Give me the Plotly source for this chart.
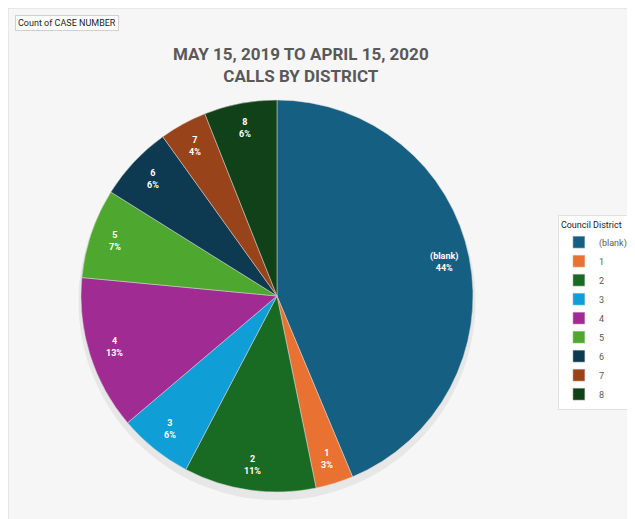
import numpy as np
import plotly.graph_objects as go

districts = ["(blank)", "1", "2", "3", "4", "5", "6", "7", "8"]
case_counts = [437, 31, 109, 61, 127, 74, 62, 39, 60]
slice_colors = ["#156082", "#E97132", "#196B24", "#0F9ED5", "#A02B93",
                "#4EA72E", "#0D3A50", "#99431A", "#114118"]

# page body has an 8px margin, so the figure is a bit smaller than the window
W, H = 627, 511
pie_x = [0.1164, 0.7416]
pie_y = [0.0528, 0.820]

counts = np.array(case_counts, dtype=float)
share = counts / counts.sum()
mid_angle = np.radians((np.cumsum(share) - share / 2) * 360)

# pie geometry in paper units, for placing the data labels near the rim
cx, cy = np.mean(pie_x), np.mean(pie_y)
radius_px = min((pie_x[1] - pie_x[0]) * W, (pie_y[1] - pie_y[0]) * H) / 2
label_r = 0.87 * radius_px

fig = go.Figure()

# soft shadow under the pie
fig.add_trace(go.Pie(
    values=[1],
    marker=dict(colors=["rgba(0,0,0,0.06)"], line=dict(width=0)),
    domain=dict(x=[pie_x[0] - 0.006, pie_x[1] + 0.006], y=[pie_y[0] - 0.016, pie_y[1] - 0.006]),
    textinfo="none", hoverinfo="skip", showlegend=False, sort=False,
))

fig.add_trace(go.Pie(
    labels=districts,
    values=case_counts,
    sort=False,
    direction="clockwise",
    rotation=0,
    marker=dict(colors=slice_colors, line=dict(width=0.5, color="#d9d9d9")),
    textinfo="none",
    domain=dict(x=pie_x, y=pie_y),
    hoverinfo="label+value+percent",
))

annotations = [
    dict(text="Count of CASE NUMBER", xref="paper", yref="paper",
         x=7 / W, y=1 - 7 / H, xanchor="left", yanchor="top", showarrow=False,
         font=dict(size=9, color="#222222"), bgcolor="white",
         bordercolor="#d0d0d0", borderwidth=1, borderpad=2),
]
for name, p, a in zip(districts, share, mid_angle):
    annotations.append(dict(
        text=f"<b>{name}<br>{p:.0%}</b>", xref="paper", yref="paper",
        x=cx + label_r * np.sin(a) / W, y=cy + label_r * np.cos(a) / H,
        xanchor="center", yanchor="middle", showarrow=False,
        font=dict(size=9, color="white", family="Roboto"),
    ))

fig.update_layout(
    width=W, height=H,
    margin=dict(l=0, r=0, t=0, b=0),
    paper_bgcolor="white",
    font=dict(family="Roboto", color="#595959"),
    title=dict(
        text="<b>MAY 15, 2019 TO APRIL 15, 2020<br>CALLS BY DISTRICT</b>",
        x=0.467, xanchor="center", y=0.898, yanchor="middle",
        font=dict(size=17, color="#595959", family="Roboto"),
    ),
    legend=dict(
        title=dict(text="Council District", font=dict(size=9, color="#222222")),
        font=dict(size=9, color="#595959"),
        x=0.877, xanchor="left", y=0.595, yanchor="top",
        bgcolor="white", bordercolor="#e0e0e0", borderwidth=1,
        itemwidth=30, tracegroupgap=0,
    ),
    shapes=[
        dict(type="rect", xref="paper", yref="paper", x0=0, x1=1.01, y0=-0.01, y1=1.0,
             fillcolor="#f6f6f6", line=dict(color="#d9d9d9", width=1), layer="below"),
    ],
    annotations=annotations,
)

fig.write_html("out.html")
